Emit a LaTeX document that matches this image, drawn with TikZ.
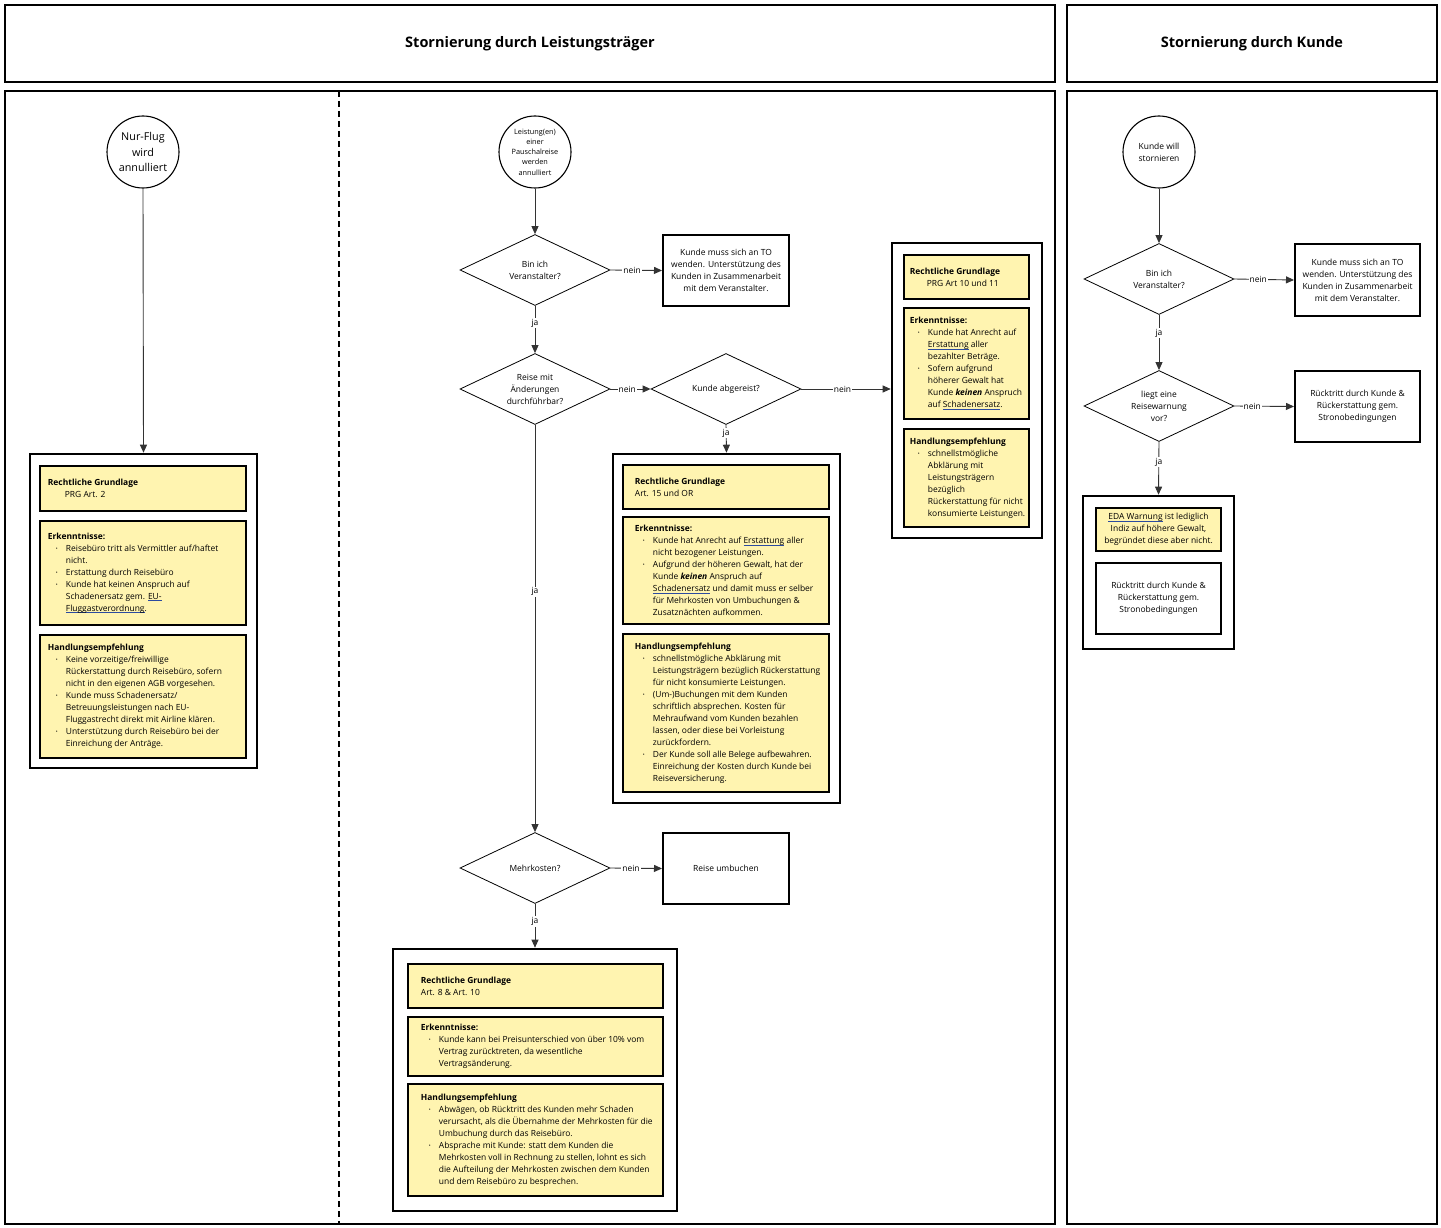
\documentclass[tikz,border=0pt]{standalone}
\usepackage{fontspec}
\setmainfont{Open Sans}
\usetikzlibrary{arrows.meta,shapes.geometric,fit}
\definecolor{yel}{HTML}{FFF4B0}
\definecolor{lnkc}{HTML}{3A57A8}
\definecolor{ulc}{HTML}{2C4BA0}
\definecolor{txt}{HTML}{000000}
\definecolor{arr}{HTML}{333333}
\newcommand\fsm{\fontsize{8.45}{12}\selectfont}
\newsavebox\lnkbox
\newcommand\lnk[1]{\leavevmode\sbox\lnkbox{#1}\rlap{\color{ulc}\rule[-2.2pt]{\wd\lnkbox}{1.3pt}}{\color{lnkc}\usebox\lnkbox}}
\newcommand\bul{\hspace*{8pt}\makebox[10pt][l]{\raisebox{0.8pt}{\fontsize{5}{5}\selectfont •}}}
\newcommand\ind{\hspace*{18pt}}
\newcommand\kw{\textbf{\textit{keinen}}}
\tikzset{
 every node/.style={text=txt},
 thick box/.style={draw=black, line width=2.6pt, inner sep=0pt},
 hdr/.style={draw=black, line width=2.6pt, inner sep=0pt},
 htx/.style={inner sep=0pt, font=\fontsize{14.5}{17}\selectfont\bfseries},
 yb/.style={draw=black, line width=2.6pt, fill=yel, inner sep=0pt},
 wb/.style={draw=black, line width=2pt, fill=white, inner sep=0pt},
 ctx/.style={inner sep=0pt, align=center, font=\fsm},
 tx/.style={anchor=west, align=left, font=\fsm, inner sep=0pt},
 dec/.style={diamond, draw=black, line width=0.8pt, shape aspect=2, inner sep=0pt, align=center, font=\fsm, minimum width=150pt, minimum height=71pt},
 start/.style={circle, draw=black, line width=1.1pt, minimum size=72pt, inner sep=0pt, align=center},
 conn/.style={draw=arr, line width=0.9pt, -{Triangle[length=8pt,width=7pt]}},
 lbl/.style={fill=white, inner sep=1pt, font=\fsm, text=txt},
}
\begin{document}
\begin{tikzpicture}[x=1pt,y=-1pt]
\useasboundingbox[fill=white] (0,0) rectangle (1441,1228);
% lanes
\node[hdr, fit={(5,5)(1055,82)}] (h1) {};
\node[htx] (h1t) at (h1.center) {Stornierung durch Leistungsträger};
\node[hdr, fit={(1067,5)(1437,82)}] (h2) {};
\node[htx] (h2t) at (h2.center) {Stornierung durch Kunde};
\node[thick box, fit={(5,91)(1055,1224)}] (lane1) {};
\node[thick box, fit={(1067,91)(1437,1224)}] (lane2) {};
\coordinate (dtop) at (339,91);
\coordinate (dbot) at (339,1224);
\draw[black, line width=1.4pt, dash pattern=on 6pt off 4pt] (dtop) -- (dbot);

% ---------- left column
\node[start, font=\fontsize{10.8}{15.5}\selectfont] (c1) at (143,152) {Nur-Flug\\wird\\annulliert};
\node[thick box, fit={(30,454)(257,768)}] (L0) {};
\node[yb, fit={(40,466)(246,511)}] (L1) {};
\node[yb, fit={(40,521)(246,625)}] (L2) {};
\node[yb, fit={(40,635)(246,758)}] (L3) {};
\node[tx] (L1t) at ([xshift=9pt]L1.west) {\textbf{Rechtliche Grundlage}\\\hspace*{17pt}PRG Art. 2};
\node[tx] (L2t) at ([xshift=9pt]L2.west) {\textbf{Erkenntnisse:}\\
\bul Reisebüro tritt als Vermittler auf/haftet\\
\ind nicht.\\
\bul Erstattung durch Reisebüro\\
\bul Kunde hat keinen Anspruch auf\\
\ind Schadenersatz gem. \lnk{EU-}\\
\ind \lnk{Fluggastverordnung}.};
\node[tx] (L3t) at ([xshift=9pt]L3.west) {\textbf{Handlungsempfehlung}\\
\bul Keine vorzeitige/freiwillige\\
\ind Rückerstattung durch Reisebüro, sofern\\
\ind nicht in den eigenen AGB vorgesehen.\\
\bul Kunde muss Schadenersatz/\\
\ind Betreuungsleistungen nach EU-\\
\ind Fluggastrecht direkt mit Airline klären.\\
\bul Unterstützung durch Reisebüro bei der\\
\ind Einreichung der Anträge.};
\draw[conn] (c1.south) -- (L0.north);

% ---------- middle column
\node[start, font=\fontsize{7.3}{10.3}\selectfont] (c2) at (535,152) {Leistung(en)\\einer\\Pauschalreise\\werden\\annulliert};
\node[dec] (d1) at (535,270) {Bin ich\\Veranstalter?};
\node[wb, fit={(663,235)(789,306)}] (b1) {};
\node[ctx] (b1t) at (b1.center) {Kunde muss sich an TO\\wenden. Unterstützung des\\Kunden in Zusammenarbeit\\mit dem Veranstalter.};
\node[dec] (d2) at (535,389) {Reise mit\\Änderungen\\durchführbar?};
\node[dec] (d3) at (726,389) {Kunde abgereist?};

\node[thick box, fit={(613,454)(840,803)}] (M0) {};
\node[yb, fit={(623,465)(829,509)}] (M1) {};
\node[yb, fit={(623,517)(829,624)}] (M2) {};
\node[yb, fit={(623,634)(829,792)}] (M3) {};
\node[tx] (M1t) at ([xshift=13pt]M1.west) {\textbf{Rechtliche Grundlage}\\Art. 15 und OR};
\node[tx] (M2t) at ([xshift=13pt]M2.west) {\textbf{Erkenntnisse:}\\
\bul Kunde hat Anrecht auf \lnk{Erstattung} aller\\
\ind nicht bezogener Leistungen.\\
\bul Aufgrund der höheren Gewalt, hat der\\
\ind Kunde \kw{} Anspruch auf\\
\ind \lnk{Schadenersatz} und damit muss er selber\\
\ind für Mehrkosten von Umbuchungen \&\\
\ind Zusatznächten aufkommen.};
\node[tx] (M3t) at ([xshift=13pt]M3.west) {\textbf{Handlungsempfehlung}\\
\bul schnellstmögliche Abklärung mit\\
\ind Leistungsträgern bezüglich Rückerstattung\\
\ind für nicht konsumierte Leistungen.\\
\bul (Um-)Buchungen mit dem Kunden\\
\ind schriftlich absprechen. Kosten für\\
\ind Mehraufwand vom Kunden bezahlen\\
\ind lassen, oder diese bei Vorleistung\\
\ind zurückfordern.\\
\bul Der Kunde soll alle Belege aufbewahren.\\
\ind Einreichung der Kosten durch Kunde bei\\
\ind Reiseversicherung.};

\node[thick box, fit={(892,243)(1042,538)}] (R0) {};
\node[yb, fit={(904,255)(1029,299)}] (R1) {};
\node[yb, fit={(904,308)(1029,419)}] (R2) {};
\node[yb, fit={(904,429)(1029,527)}] (R3) {};
\node[tx] (R1t) at ([xshift=7pt]R1.west) {\textbf{Rechtliche Grundlage}\\\hspace*{17pt}PRG Art 10 und 11};
\node[tx] (R2t) at ([xshift=7pt]R2.west) {\textbf{Erkenntnisse:}\\
\bul Kunde hat Anrecht auf\\
\ind \lnk{Erstattung} aller\\
\ind bezahlter Beträge.\\
\bul Sofern aufgrund\\
\ind höherer Gewalt hat\\
\ind Kunde \kw{} Anspruch\\
\ind auf \lnk{Schadenersatz}.};
\node[tx] (R3t) at ([xshift=7pt]R3.west) {\textbf{Handlungsempfehlung}\\
\bul schnellstmögliche\\
\ind Abklärung mit\\
\ind Leistungsträgern\\
\ind bezüglich\\
\ind Rückerstattung für nicht\\
\ind konsumierte Leistungen.};

\node[dec] (d4) at (535,868) {Mehrkosten?};
\node[wb, fit={(663,833)(789,904)}] (b2) {};
\node[ctx] (b2t) at (b2.center) {Reise umbuchen};

\node[thick box, fit={(393,949)(677,1211)}] (B0) {};
\node[yb, fit={(408,964)(663,1008)}] (B1) {};
\node[yb, fit={(408,1017)(663,1076)}] (B2) {};
\node[yb, fit={(408,1084)(663,1196)}] (B3) {};
\node[tx] (B1t) at ([xshift=14pt]B1.west) {\textbf{Rechtliche Grundlage}\\Art. 8 \& Art. 10};
\node[tx] (B2t) at ([xshift=14pt]B2.west) {\textbf{Erkenntnisse:}\\
\bul Kunde kann bei Preisunterschied von über 10\% vom\\
\ind Vertrag zurücktreten, da wesentliche\\
\ind Vertragsänderung.};
\node[tx] (B3t) at ([xshift=14pt]B3.west) {\textbf{Handlungsempfehlung}\\
\bul Abwägen, ob Rücktritt des Kunden mehr Schaden\\
\ind verursacht, als die Übernahme der Mehrkosten für die\\
\ind Umbuchung durch das Reisebüro.\\
\bul Absprache mit Kunde: statt dem Kunden die\\
\ind Mehrkosten voll in Rechnung zu stellen, lohnt es sich\\
\ind die Aufteilung der Mehrkosten zwischen dem Kunden\\
\ind und dem Reisebüro zu besprechen.};

\draw[conn] (c2.south) -- (d1.north);
\draw[conn] (d1.east) -- node[lbl, pos=0.42] {nein} (b1.west);
\draw[conn] (d1.south) -- node[lbl, pos=0.37] {ja} (d2.north);
\draw[conn] (d2.east) -- node[lbl, pos=0.42] {nein} (d3.west);
\draw[conn] (d3.east) -- node[lbl, pos=0.46] {nein} (d3.east -| R0.west);
\draw[conn] (d3.south) -- node[lbl, pos=0.3] {ja} (M0.north);
\draw[conn] (d2.south) -- node[lbl, pos=0.41] {ja} (d4.north);
\draw[conn] (d4.east) -- node[lbl, pos=0.4] {nein} (b2.west);
\draw[conn] (d4.south) -- node[lbl, pos=0.4] {ja} (B0.north);

% ---------- right lane
\node[start, font=\fsm] (c3) at (1159,152) {Kunde will\\stornieren};
\node[dec] (d5) at (1159,279) {Bin ich\\Veranstalter?};
\node[wb, fit={(1295,244)(1420,316)}] (b3) {};
\node[ctx] (b3t) at (b3.center) {Kunde muss sich an TO\\wenden. Unterstützung des\\Kunden in Zusammenarbeit\\mit dem Veranstalter.};
\node[dec] (d6) at (1159,406) {liegt eine\\Reisewarnung\\vor?};
\node[wb, fit={(1295,371)(1420,442)}] (b4) {};
\node[ctx] (b4t) at (b4.center) {Rücktritt durch Kunde \&\\Rückerstattung gem.\\Stronobedingungen};
\node[thick box, fit={(1083,496)(1234,649)}] (K0) {};
\node[yb, fit={(1096,508)(1221,551)}] (K1) {};
\node[ctx] (K1t) at (K1.center) {\lnk{EDA Warnung} ist lediglich\\Indiz auf höhere Gewalt,\\begründet diese aber nicht.};
\node[wb, fit={(1096,563)(1221,634)}] (K2) {};
\node[ctx] (K2t) at (K2.center) {Rücktritt durch Kunde \&\\Rückerstattung gem.\\Stronobedingungen};

\draw[conn] (c3.south) -- (d5.north);
\draw[conn] (d5.east) -- node[lbl, pos=0.4] {nein} (b3.west);
\draw[conn] (d5.south) -- node[lbl, pos=0.33] {ja} (d6.north);
\draw[conn] (d6.east) -- node[lbl, pos=0.3] {nein} (b4.west);
\draw[conn] (d6.south) -- node[lbl, pos=0.38] {ja} (K0.north);
\end{tikzpicture}
\end{document}
